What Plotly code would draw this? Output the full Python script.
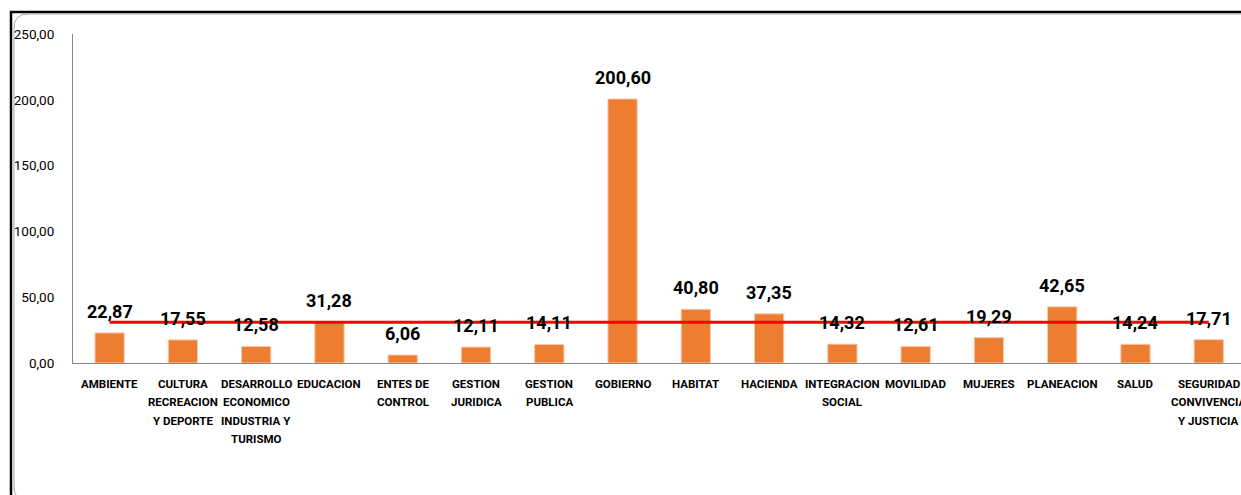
import plotly.graph_objects as go

categories = [
    "AMBIENTE", "CULTURA<br>RECREACION<br>Y DEPORTE",
    "DESARROLLO<br>ECONOMICO<br>INDUSTRIA Y<br>TURISMO", "EDUCACION",
    "ENTES DE<br>CONTROL", "GESTION<br>JURIDICA", "GESTION<br>PUBLICA",
    "GOBIERNO", "HABITAT", "HACIENDA", "INTEGRACION<br>SOCIAL", "MOVILIDAD",
    "MUJERES", "PLANEACION", "SALUD", "SEGURIDAD<br>CONVIVENCIA<br>Y JUSTICIA",
]
values = [22.87, 17.55, 12.58, 31.28, 6.06, 12.11, 14.11, 200.60,
          40.80, 37.35, 14.32, 12.61, 19.29, 42.65, 14.24, 17.71]
reference_line = [31.0] * len(categories)
y_ticks = [0, 50, 100, 150, 200, 250]

W, H = 1241, 495
L, R, T, B = 73, 0, 34, 132
FONT = "Roboto, Liberation Sans, Arial, sans-serif"

fig = go.Figure()
fig.add_trace(go.Bar(
    x=list(range(len(categories))), y=values, width=0.4,
    marker=dict(color="#ED7D31", line=dict(color="#F8CBAD", width=1)),
    hoverinfo="skip", showlegend=False,
))
fig.add_trace(go.Scatter(
    x=list(range(len(categories))), y=reference_line, mode="lines",
    line=dict(color="#FF0000", width=3), hoverinfo="skip", showlegend=False,
))

# value labels
for i, v in enumerate(values):
    fig.add_annotation(
        x=i, y=v, text="<b>" + f"{v:.2f}".replace(".", ",") + "</b>",
        showarrow=False, yanchor="bottom", yshift=9,
        font=dict(family=FONT, size=18, color="#000000"),
    )

# category labels (one annotation per text line for Excel-like spacing)
for i, cat in enumerate(categories):
    for k, line in enumerate(cat.split("<br>")):
        fig.add_annotation(
            x=i, xref="x", y=0, yref="paper", text="<b>" + line + "</b>",
            showarrow=False, yanchor="middle", yshift=-(21 + 18.3 * k),
            font=dict(family=FONT, size=11.5, color="#000000"),
        )

pw = W - L - R
ph = H - T - B
def px(x):
    return (x - L) / pw
def py(y):
    return (H - B - y) / ph

# outer frame (top and left black lines)
fig.add_shape(type="path", xref="paper", yref="paper",
              path=f"M {px(1260)} {py(12)} L {px(11)} {py(12)} L {px(11)} {py(500)}",
              line=dict(color="#000000", width=2.5), layer="above")
# inner rounded border
r = 14
fig.add_shape(type="path", xref="paper", yref="paper",
              path=(f"M {px(1260)} {py(14)} L {px(14 + r)} {py(14)} "
                    f"Q {px(14)} {py(14)} {px(14)} {py(14 + r)} "
                    f"L {px(14)} {py(501 - r)} Q {px(14)} {py(501)} {px(14 + r)} {py(501)} "
                    f"L {px(1260)} {py(501)}"),
              line=dict(color="#A6A6A6", width=1), layer="above")

fig.update_layout(
    width=W, height=H,
    margin=dict(l=L, r=R, t=T, b=B),
    paper_bgcolor="white", plot_bgcolor="white",
    separators=",.",
    xaxis=dict(
        range=[-0.5, 15.44], showgrid=False, zeroline=False,
        showline=True, linecolor="#868686", linewidth=1,
        ticks="", showticklabels=False,
    ),
    yaxis=dict(
        range=[0, 250], tickmode="array", tickvals=y_ticks,
        tickformat=".2f", showgrid=False, zeroline=False,
        showline=True, linecolor="#868686", linewidth=1,
        ticks="", ticklabelstandoff=15,
        tickfont=dict(family=FONT, size=13.5, color="#000000"),
    ),
)

fig.write_html("out.html")
